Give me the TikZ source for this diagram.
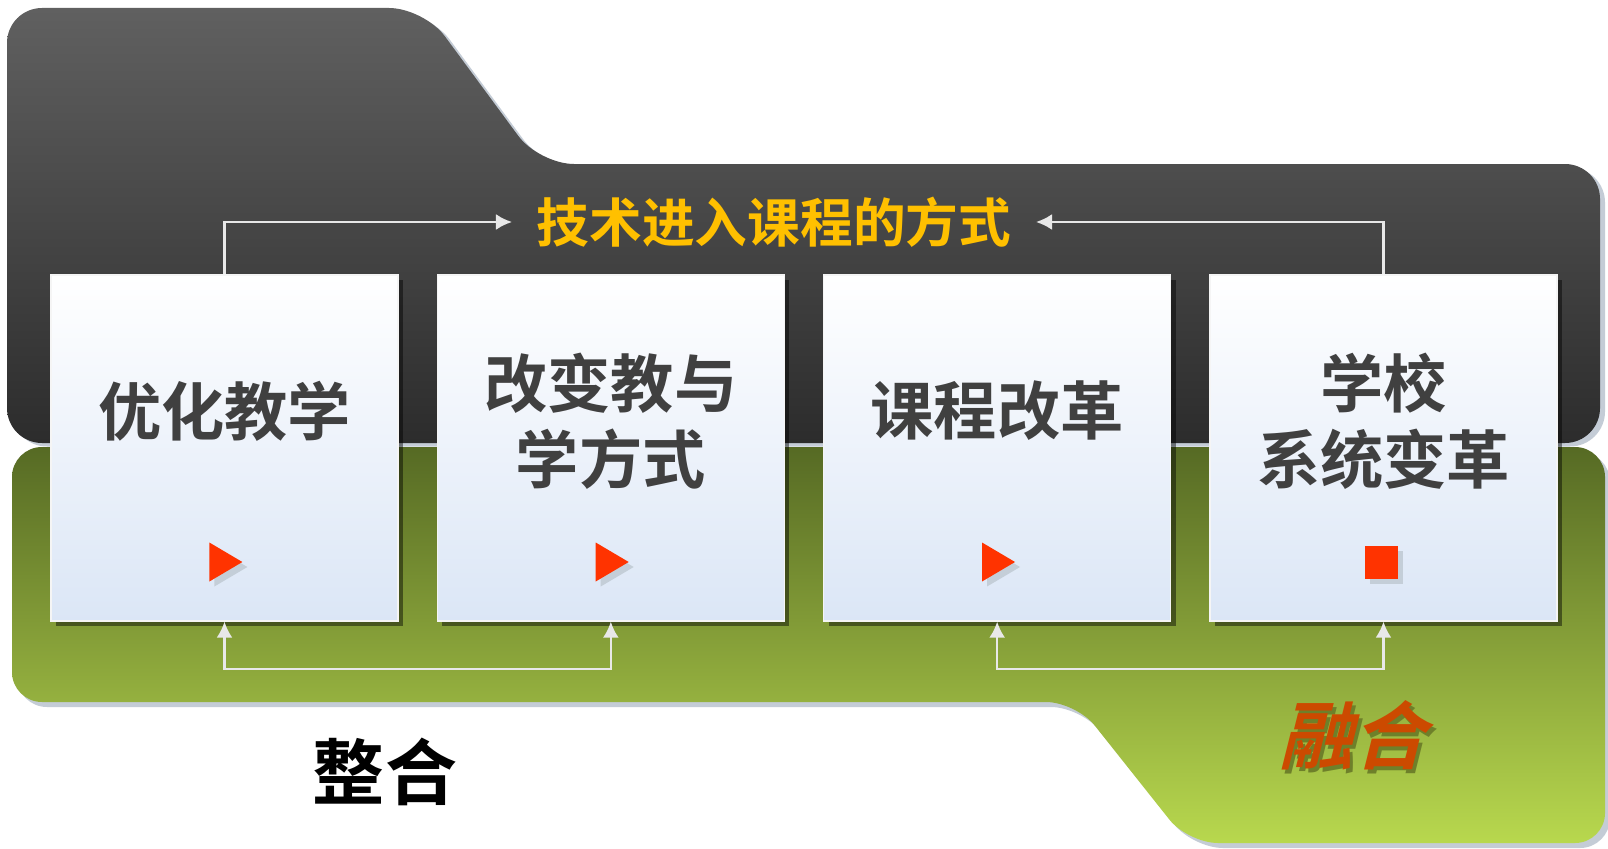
\documentclass[tikz,border=0pt]{standalone}
\usepackage{fontspec}
\usepackage{xcolor}
\usetikzlibrary{arrows.meta,positioning,shadows,shapes.geometric}
\IfFontExistsTF{Noto Sans CJK SC Black}{\newfontfamily\cjk{Noto Sans CJK SC Black}}{\newfontfamily\cjk{Noto Sans CJK SC}}
\definecolor{darktop}{RGB}{96,96,96}
\definecolor{darkbot}{RGB}{44,44,44}
\definecolor{greentop}{RGB}{86,106,36}
\definecolor{greenbot}{RGB}{184,216,78}
\definecolor{boxbot}{RGB}{219,230,246}
\definecolor{titleorange}{RGB}{255,192,0}
\definecolor{boxgray}{RGB}{64,64,64}
\definecolor{playred}{RGB}{255,51,0}
\definecolor{playshade}{RGB}{196,206,216}
\definecolor{fuseorange}{RGB}{204,74,0}
\definecolor{fuseshade}{RGB}{110,128,42}
\definecolor{linegray}{RGB}{232,232,232}
\definecolor{frameshade}{RGB}{196,204,214}
\tikzset{%
	framedark/.style  = {rounded corners=0.7cm, top color=darktop, bottom color=darkbot, drop shadow={shadow xshift=0.1cm, shadow yshift=-0.07cm, fill=frameshade, opacity=1}},
	framegreen/.style = {rounded corners=0.6cm, top color=greentop, bottom color=greenbot, drop shadow={shadow xshift=0.1cm, shadow yshift=-0.1cm, fill=frameshade, opacity=1}},
	stagebox/.style   = {draw=white!92!gray, line width=0.8pt, rectangle, minimum width=6.94cm, minimum height=6.92cm, top color=white, bottom color=boxbot, drop shadow={shadow xshift=0.1cm, shadow yshift=-0.1cm, fill=black, opacity=0.45}},
	stagetext/.style  = {font=\cjk\bfseries\fontsize{36}{43}\selectfont, text=boxgray, align=center, inner sep=0pt},
	titletext/.style  = {font=\cjk\bfseries\fontsize{30}{36}\selectfont, text=titleorange, inner xsep=0.49cm, inner ysep=0pt},
	playmark/.style   = {isosceles triangle, isosceles triangle stretches, minimum width=0.78cm, minimum height=0.66cm, inner sep=0pt, fill=playred, drop shadow={shadow xshift=0.1cm, shadow yshift=-0.1cm, fill=playshade, opacity=1}},
	stopmark/.style   = {rectangle, minimum size=0.66cm, inner sep=0pt, fill=playred, drop shadow={shadow xshift=0.1cm, shadow yshift=-0.1cm, fill=playshade, opacity=1}},
	arrowline/.style  = {draw=linegray, line width=1.3pt, -{Latex[length=0.32cm,width=0.32cm]}},
}

\begin{document}
\begin{tikzpicture}[x=0.02cm,y=-0.02cm]
	\useasboundingbox (0,0) rectangle (1608,848);
	\fill[white] (0,0) rectangle (1608,848);
	
	% two backgrounds
	\path[framegreen] (12,447) -- (1605,447) -- (1605,843) -- (1188,843) -- (1076,702) -- (12,702) -- cycle;
	\path[framedark] (7,443) -- (7,8) -- (424,8) -- (539,164) -- (1600,164) -- (1600,443) -- cycle;
	
	% the four stages
	\node[stagebox] (b1) at (224.5,448) {};
	\node[stagebox, right=0.76cm of b1] (b2) {};
	\node[stagebox, right=0.76cm of b2] (b3) {};
	\node[stagebox, right=0.76cm of b3] (b4) {};
	
	\node[stagetext] (t1) at ([shift={(0,-37)}]b1.center) {优化教学};
	\node[stagetext] (t2) at ([shift={(0,-27)}]b2.center) {改变教与\\学方式};
	\node[stagetext] (t3) at ([shift={(0,-37)}]b3.center) {课程改革};
	\node[stagetext] (t4) at ([shift={(0,-27)}]b4.center) {学校\\系统变革};
	
	\node[playmark] (m1) at ([shift={(-4,114)}]b1.center) {};
	\node[playmark] (m2) at ([shift={(-4,114)}]b2.center) {};
	\node[playmark] (m3) at ([shift={(-4,114)}]b3.center) {};
	\node[stopmark] (m4) at ([shift={(-2,114)}]b4.center) {};
	
	% title and links
	\node[titletext] (title) at (774,222) {技术进入课程的方式};
	\draw[arrowline] (b1.north) |- (title.west);
	\draw[arrowline] (b4.north) |- (title.east);
	\draw[arrowline, {Latex[length=0.32cm,width=0.32cm]}-{Latex[length=0.32cm,width=0.32cm]}] (b1.south) -- ++(0,47) -| (b2.south);
	\draw[arrowline, {Latex[length=0.32cm,width=0.32cm]}-{Latex[length=0.32cm,width=0.32cm]}] (b3.south) -- ++(0,47) -| (b4.south);
	
	% the two words
	\node[font=\cjk\bfseries\fontsize{41}{48}\selectfont, text=black] (zh) at (385,772) {整合};
	\begin{scope}[shift={(1360,735)}, xslant=0.25]
		\node[font=\cjk\bfseries\fontsize{42}{48}\selectfont, text=fuseshade, transform shape] (rhshade) at (4,4) {融合};
		\node[font=\cjk\bfseries\fontsize{42}{48}\selectfont, text=fuseorange, transform shape] (rh) at (0,0) {融合};
	\end{scope}
\end{tikzpicture}
\end{document}
